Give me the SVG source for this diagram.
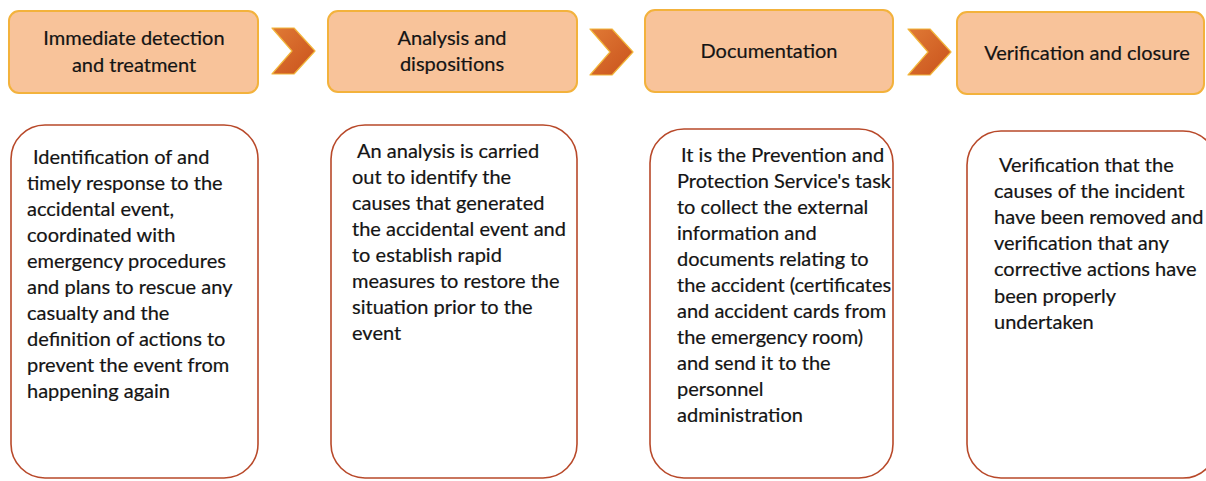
<svg xmlns="http://www.w3.org/2000/svg" width="1206" height="481" viewBox="0 0 1206 481">
  <defs>
    <linearGradient id="chev" x1="0" y1="0" x2="1" y2="1">
      <stop offset="0" stop-color="#E07A35"/>
      <stop offset="1" stop-color="#C9521C"/>
    </linearGradient>
  </defs>
  <style>
    .head { fill: #F8C39A; stroke: #F3B23C; stroke-width: 2; }
    .card { fill: #FFFFFF; stroke: #B8492A; stroke-width: 1.6; }
    .chev { fill: url(#chev); stroke: #F2B53A; stroke-width: 1.2; stroke-linejoin: round; }
    .ht { font-family: Lato, "Open Sans", sans-serif; font-size: 20px; fill: #141414; text-anchor: middle; stroke: #141414; stroke-width: 0.2; }
    .bt { font-family: Lato, "Open Sans", sans-serif; font-size: 20px; fill: #141414; stroke: #141414; stroke-width: 0.2; }
  </style>

  <g id="step1">
    <rect class="head" x="9" y="11" width="249" height="82" rx="10"/>
    <text class="ht" x="134" y="45">Immediate detection</text>
    <text class="ht" x="134" y="72">and treatment</text>
  </g>
  <g id="step2">
    <rect class="head" x="328" y="11" width="249" height="81" rx="10"/>
    <text class="ht" x="452" y="45">Analysis and</text>
    <text class="ht" x="452" y="71">dispositions</text>
  </g>
  <g id="step3">
    <rect class="head" x="645" y="10" width="248" height="82" rx="10"/>
    <text class="ht" x="769" y="58">Documentation</text>
  </g>
  <g id="step4">
    <rect class="head" x="957" y="12" width="247" height="82" rx="10"/>
    <text class="ht" x="1087" y="60">Verification and closure</text>
  </g>

  <!-- chevrons linking the steps -->
  <g id="connectors">
    <polygon class="chev" points="272,28 294,28 315,51 294,74 272,74 292,51"/>
    <polygon class="chev" points="590,29 612,29 633,52 612,75 590,75 610,52"/>
    <polygon class="chev" points="908,29 930,29 951,52 930,75 908,75 928,52"/>
  </g>

  <g id="detail1">
    <rect class="card" x="11" y="125" width="247" height="353" rx="34"/>
    <text class="bt" x="33" y="164">Identification of and</text>
    <text class="bt" x="27" y="190">timely response to the</text>
    <text class="bt" x="27" y="216">accidental event,</text>
    <text class="bt" x="27" y="242">coordinated with</text>
    <text class="bt" x="27" y="268">emergency procedures</text>
    <text class="bt" x="27" y="294">and plans to rescue any</text>
    <text class="bt" x="27" y="320">casualty and the</text>
    <text class="bt" x="27" y="346">definition of actions to</text>
    <text class="bt" x="27" y="372">prevent the event from</text>
    <text class="bt" x="27" y="398">happening again</text>
  </g>
  <g id="detail2">
    <rect class="card" x="331" y="125" width="246" height="353" rx="34"/>
    <text class="bt" x="357" y="158">An analysis is carried</text>
    <text class="bt" x="352" y="184">out to identify the</text>
    <text class="bt" x="352" y="210">causes that generated</text>
    <text class="bt" x="352" y="236">the accidental event and</text>
    <text class="bt" x="352" y="262">to establish rapid</text>
    <text class="bt" x="352" y="288">measures to restore the</text>
    <text class="bt" x="352" y="314">situation prior to the</text>
    <text class="bt" x="352" y="340">event</text>
  </g>
  <g id="detail3">
    <rect class="card" x="650" y="129" width="243" height="349" rx="34"/>
    <text class="bt" x="681" y="162">It is the Prevention and</text>
    <text class="bt" x="677" y="188">Protection Service's task</text>
    <text class="bt" x="677" y="214">to collect the external</text>
    <text class="bt" x="677" y="240">information and</text>
    <text class="bt" x="677" y="266">documents relating to</text>
    <text class="bt" x="677" y="292">the accident (certificates</text>
    <text class="bt" x="677" y="318">and accident cards from</text>
    <text class="bt" x="677" y="344">the emergency room)</text>
    <text class="bt" x="677" y="370">and send it to the</text>
    <text class="bt" x="677" y="396">personnel</text>
    <text class="bt" x="677" y="422">administration</text>
  </g>
  <g id="detail4">
    <rect class="card" x="967" y="131" width="250" height="347" rx="34"/>
    <text class="bt" x="999" y="172">Verification that the</text>
    <text class="bt" x="994" y="198">causes of the incident</text>
    <text class="bt" x="994" y="224">have been removed and</text>
    <text class="bt" x="994" y="250">verification that any</text>
    <text class="bt" x="994" y="276">corrective actions have</text>
    <text class="bt" x="994" y="303">been properly</text>
    <text class="bt" x="994" y="329">undertaken</text>
  </g>
</svg>
